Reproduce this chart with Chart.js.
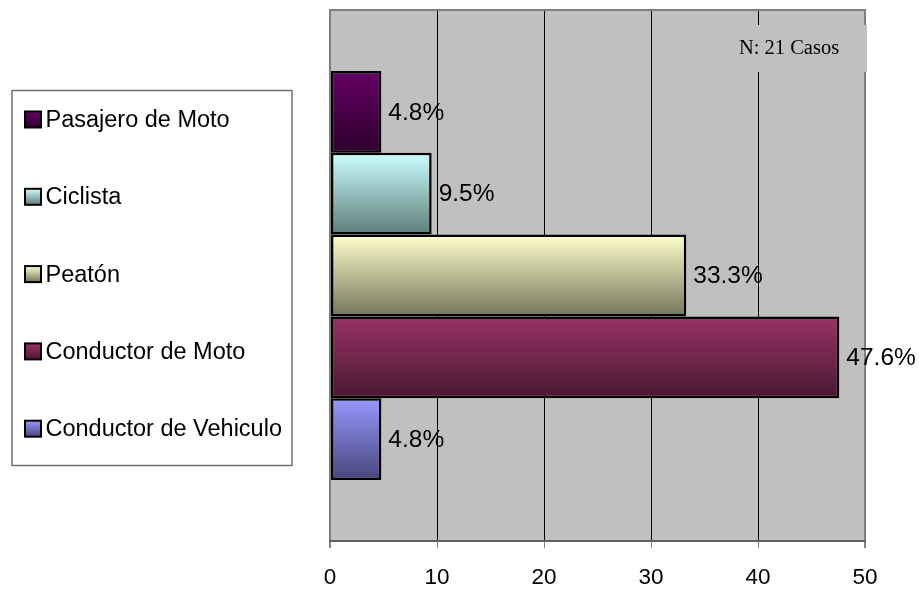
<!DOCTYPE html>
<html><head><meta charset="utf-8">
<script src="https://cdn.jsdelivr.net/npm/chart.js@4/dist/chart.umd.min.js"></script>
<style>html,body{margin:0;padding:0;background:#fff}#wrap{width:919px;height:590px;position:relative}</style>
</head><body><div id="wrap"><canvas id="c" width="919" height="590"></canvas></div>
<script>
// ---- data ----
const categories = ['Usuarios'];
const seriesLabels = ['Pasajero de Moto', 'Ciclista', 'Peatón', 'Conductor de Moto', 'Conductor de Vehiculo'];
const seriesValues = [4.8, 9.5, 33.3, 47.6, 4.8];
const topColors = ['#660066', '#CCFFFF', '#FFFFCC', '#993366', '#9999FF'];
const bottomColors = ['#2E002C', '#5E7C7C', '#75755C', '#4A1830', '#46467A'];
const xTickValues = [0, 10, 20, 30, 40, 50];
const noteText = 'N: 21 Casos';

const SANS = "'Liberation Sans', Arial, sans-serif";
const SERIF = "'Liberation Serif', 'Times New Roman', serif";

function barGradient(i) {
  return (ctx) => {
    const el = ctx.element;
    if (!el || !isFinite(el.y) || !isFinite(el.height)) return topColors[i];
    const g = ctx.chart.ctx.createLinearGradient(0, el.y - el.height / 2, 0, el.y + el.height / 2);
    g.addColorStop(0, topColors[i]);
    g.addColorStop(1, bottomColors[i]);
    return g;
  };
}

const datasets = seriesLabels.map((lab, i) => ({
  label: lab,
  data: [seriesValues[i]],
  backgroundColor: barGradient(i),
  borderColor: '#000',
  borderWidth: 2.5,
  borderSkipped: false,
  categoryPercentage: 0.77,
  barPercentage: 1.0
}));

const bgPlugin = {
  id: 'bg',
  beforeDraw(chart) {
    const { ctx, chartArea: a } = chart;
    ctx.save();
    ctx.fillStyle = '#C0C0C0';
    ctx.fillRect(a.left, a.top, a.right - a.left, a.bottom - a.top);
    ctx.restore();
  },
  afterDatasetsDraw(chart) {
    const { ctx, chartArea: a } = chart;
    ctx.save();
    // top border
    ctx.strokeStyle = '#808080';
    ctx.lineWidth = 2;
    ctx.beginPath();
    ctx.moveTo(a.left - 1, a.top);
    ctx.lineTo(a.right + 1, a.top);
    ctx.stroke();
    // value labels
    ctx.fillStyle = '#000';
    ctx.font = '24.5px ' + SANS;
    ctx.textBaseline = 'middle';
    ctx.textAlign = 'left';
    chart.data.datasets.forEach((ds, i) => {
      const meta = chart.getDatasetMeta(i);
      meta.data.forEach((el, j) => {
        const v = ds.data[j];
        ctx.fillText(v.toFixed(1) + '%', el.x + 7, el.y + 1);
      });
    });
    ctx.restore();
  },
  afterDraw(chart) {
    const { ctx, chartArea: a } = chart;
    ctx.save();
    // note box
    ctx.fillStyle = '#C0C0C0';
    ctx.fillRect(a.right - 150, a.top + 15, 152, 47);
    ctx.fillStyle = '#000';
    ctx.font = '20.5px ' + SERIF;
    ctx.textAlign = 'center';
    ctx.textBaseline = 'middle';
    ctx.fillText(noteText, a.right - 76, a.top + 39);
    // legend
    ctx.strokeStyle = '#707070';
    ctx.lineWidth = 1.5;
    ctx.strokeRect(12, 90.5, 280, 375);
    ctx.font = '23.5px ' + SANS;
    ctx.textAlign = 'left';
    chart.data.datasets.forEach((ds, i) => {
      const cy = 119.5 + i * 77.3;
      const g = ctx.createLinearGradient(0, cy - 8, 0, cy + 8);
      g.addColorStop(0, topColors[i]);
      g.addColorStop(1, bottomColors[i]);
      ctx.fillStyle = g;
      ctx.fillRect(25, cy - 8, 16, 16);
      ctx.strokeStyle = '#000';
      ctx.lineWidth = 2;
      ctx.strokeRect(25, cy - 8, 16, 16);
      ctx.fillStyle = '#000';
      ctx.textBaseline = 'middle';
      ctx.fillText(ds.label, 45.5, cy + 1);
    });
    ctx.restore();
  }
};

const chart = new Chart(document.getElementById('c'), {
  type: 'bar',
  data: { labels: categories, datasets },
  options: {
    indexAxis: 'y',
    responsive: false,
    animation: false,
    devicePixelRatio: 1,
    layout: { padding: { left: 330, right: 54, top: 10, bottom: 0 } },
    plugins: { legend: { display: false }, tooltip: { enabled: false } },
    scales: {
      y: { display: false, offset: true },
      x: {
        min: 0, max: 50,
        afterBuildTicks(s) { s.ticks = xTickValues.map(v => ({ value: v })); },
        afterFit(s) { s.height = 49; },
        ticks: { color: '#000', font: { family: SANS, size: 22.5 }, padding: 16, maxRotation: 0 },
        grid: {
          color: (c) => (c.tick && (c.tick.value === 0 || c.tick.value === 50)) ? '#808080' : '#000',
          lineWidth: (c) => (c.tick && (c.tick.value === 0 || c.tick.value === 50)) ? 2 : 1,
          tickLength: 7,
          tickColor: '#808080',
          drawTicks: true
        },
        border: { color: '#606060', width: 2 }
      }
    }
  },
  plugins: [bgPlugin]
});
chart.update('none');
</script>
</body></html>
